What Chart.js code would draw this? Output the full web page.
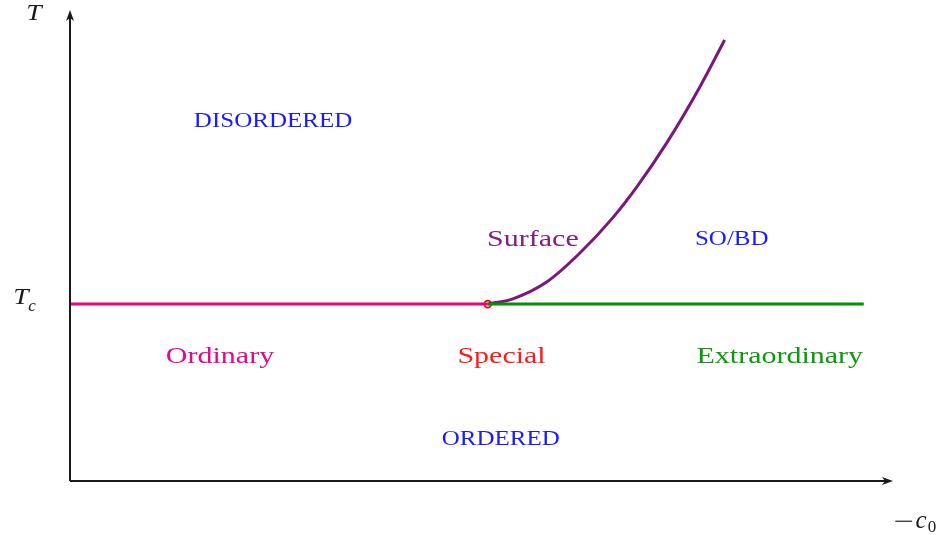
<!DOCTYPE html>
<html>
<head>
<meta charset="utf-8">
<title>Phase diagram</title>
<script src="https://cdn.jsdelivr.net/npm/chart.js@4/dist/chart.umd.min.js"></script>
<style>
  html, body { margin: 0; padding: 0; background: #fff; }
  #wrap { width: 940px; height: 535px; position: relative; }
</style>
</head>
<body>
<div id="wrap"><canvas id="phaseChart"></canvas></div>
<script>
// ---- Data (x = -c0, y = T) ----
const T_C = 4;
const ordinaryX = [0, 10];
const ordinaryY = [T_C, T_C];
const extraX = [10, 19];
const extraY = [T_C, T_C];
const surfaceX = [10, 10.6, 11.41, 12.2, 12.99, 13.56, 14.28, 15.07, 15.67];
const surfaceY = [4, 4.12, 4.5, 5.15, 5.95, 6.64, 7.64, 8.9, 9.97];
const specialX = [10];
const specialY = [T_C];
const axisMaxX = 19.7;
const axisMaxY = 10.65;

// Region labels
const labelTexts = ['DISORDERED', 'SO/BD', 'ORDERED', 'Surface', 'Ordinary', 'Special', 'Extraordinary'];
const labelX = [4.86, 15.84, 10.31, 11.08, 3.59, 10.33, 16.99];
const labelY = [8.16, 5.49, 0.97, 5.51, 2.85, 2.85, 2.85];
const labelColors = ['#1a1aff', '#1a1aff', '#1a1aff', '#80207f', '#e8078c', '#ff1a1a', '#0a9a0a'];
const labelSizes = [20, 20, 20, 24, 24, 24, 24];

const toPoints = (xs, ys) => xs.map((x, i) => ({ x, y: ys[i] }));

// draw text stretched a bit wider, closer to the TeX look
function wideText(ctx, text, x, y, sx) {
  ctx.save();
  ctx.translate(x, y);
  ctx.scale(sx, 1);
  ctx.fillText(text, 0, 0);
  ctx.restore();
}

// Axes with arrows + text labels
const phasePlugin = {
  id: 'phasePlugin',
  afterDatasetsDraw(chart) {
    const { ctx, chartArea: a, scales } = chart;
    ctx.save();
    ctx.strokeStyle = '#1a1a1a';
    ctx.fillStyle = '#1a1a1a';
    ctx.lineWidth = 2;
    // y axis
    ctx.beginPath();
    ctx.moveTo(a.left, a.bottom);
    ctx.lineTo(a.left, a.top + 6);
    ctx.stroke();
    ctx.beginPath();
    ctx.moveTo(a.left, a.top);
    ctx.lineTo(a.left - 4, a.top + 11);
    ctx.lineTo(a.left, a.top + 8);
    ctx.lineTo(a.left + 4, a.top + 11);
    ctx.closePath();
    ctx.fill();
    // x axis
    ctx.beginPath();
    ctx.moveTo(a.left, a.bottom);
    ctx.lineTo(a.right - 6, a.bottom);
    ctx.stroke();
    ctx.beginPath();
    ctx.moveTo(a.right, a.bottom);
    ctx.lineTo(a.right - 11, a.bottom - 4);
    ctx.lineTo(a.right - 8, a.bottom);
    ctx.lineTo(a.right - 11, a.bottom + 4);
    ctx.closePath();
    ctx.fill();

    // axis labels
    ctx.textAlign = 'center';
    ctx.textBaseline = 'middle';
    ctx.font = 'italic 24px "Liberation Serif"';
    wideText(ctx, 'T', 34, 14, 1.15);
    const tcY = scales.y.getPixelForValue(T_C);
    wideText(ctx, 'T', 21, tcY - 6, 1.15);
    ctx.font = 'italic 17px "Liberation Serif"';
    ctx.fillText('c', 32, tcY + 2);
    ctx.font = '24px "Liberation Serif"';
    wideText(ctx, '\u2212', 904, 523, 1.5);
    ctx.font = 'italic 25px "Liberation Serif"';
    ctx.fillText('c', 921, 521);
    ctx.font = '17px "Liberation Serif"';
    ctx.fillText('0', 932, 528);

    // region labels
    labelTexts.forEach((t, i) => {
      ctx.fillStyle = labelColors[i];
      ctx.font = labelSizes[i] + 'px "Liberation Serif"';
      wideText(ctx, t, scales.x.getPixelForValue(labelX[i]), scales.y.getPixelForValue(labelY[i]) + 2, 1.25);
    });
    ctx.restore();
  }
};

const ctx = document.getElementById('phaseChart');
new Chart(ctx, {
  type: 'scatter',
  data: {
    datasets: [
      {
        label: 'Ordinary',
        data: toPoints(ordinaryX, ordinaryY),
        showLine: true,
        borderColor: '#e0077f',
        borderWidth: 3,
        pointRadius: 0
      },
      {
        label: 'Extraordinary',
        data: toPoints(extraX, extraY),
        showLine: true,
        borderColor: '#009000',
        borderWidth: 3,
        pointRadius: 0
      },
      {
        label: 'Surface',
        data: toPoints(surfaceX, surfaceY),
        showLine: true,
        borderColor: '#7d157d',
        borderWidth: 3,
        cubicInterpolationMode: 'monotone',
        pointRadius: 0
      },
      {
        label: 'Special',
        data: toPoints(specialX, specialY),
        borderColor: '#ff0000',
        backgroundColor: 'rgba(0,0,0,0)',
        borderWidth: 1.6,
        pointRadius: 3.5
      }
    ]
  },
  options: {
    responsive: true,
    maintainAspectRatio: false,
    animation: false,
    layout: { padding: { left: 70, top: 10, right: 47, bottom: 54 } },
    plugins: {
      legend: { display: false },
      tooltip: { enabled: false }
    },
    scales: {
      x: { type: 'linear', min: 0, max: axisMaxX, display: false },
      y: { type: 'linear', min: 0, max: axisMaxY, display: false }
    }
  },
  plugins: [phasePlugin]
});
</script>
</body>
</html>
